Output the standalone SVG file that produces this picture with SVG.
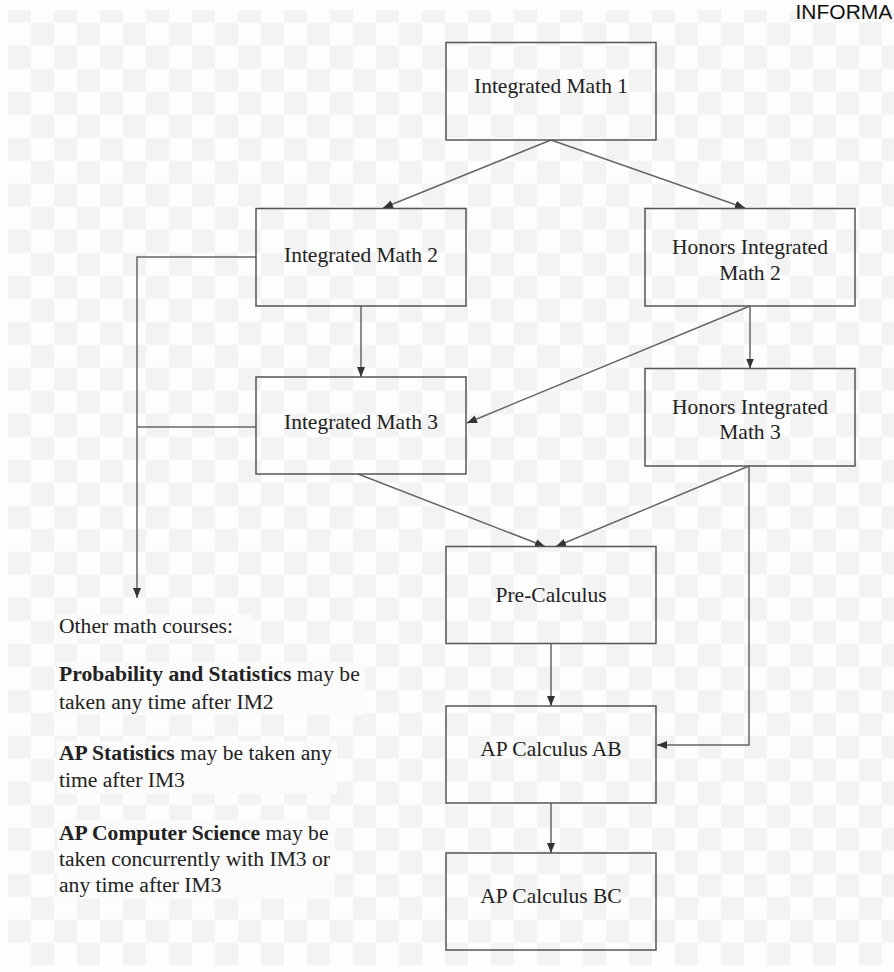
<svg xmlns="http://www.w3.org/2000/svg" width="894" height="972" viewBox="0 0 894 972">
<defs>
<pattern id="checker" x="8" y="-0.3" width="46" height="46" patternUnits="userSpaceOnUse">
<rect width="46" height="46" fill="#fdfdfd"/>
<rect width="23" height="23" fill="#f3f3f3"/>
<rect x="23" y="23" width="23" height="23" fill="#f3f3f3"/>
</pattern>
<marker id="arrow" markerUnits="userSpaceOnUse" markerWidth="12" markerHeight="10" refX="10" refY="4" orient="auto">
<path d="M0,0 L10,4 L0,8 Z" fill="#333"/>
</marker>
<style>
.box{fill:none;stroke:#555;stroke-width:1.5}
.lbl{font-family:"Liberation Serif","Times New Roman","DejaVu Serif",serif;font-size:21.5px;fill:#222;text-anchor:middle}
.note{font-family:"Liberation Serif","Times New Roman","DejaVu Serif",serif;font-size:21.6px;fill:#222}
.conn{fill:none;stroke:#666;stroke-width:1.5}
.bg{fill:#fbfbfb}
</style>
</defs>
<rect width="894" height="972" fill="#fefefe"/>
<rect x="8" y="10" width="886" height="955" fill="url(#checker)"/>
<text x="795.5" y="19" font-family="Liberation Sans, Arial, sans-serif" font-size="21" fill="#111">INFORMA</text>

<g id="connectors">
<line class="conn" x1="551" y1="140" x2="383" y2="208" marker-end="url(#arrow)"/>
<line class="conn" x1="551" y1="140" x2="745" y2="208" marker-end="url(#arrow)"/>
<line class="conn" x1="361" y1="306" x2="361" y2="377" marker-end="url(#arrow)"/>
<line class="conn" x1="750" y1="306" x2="467" y2="423" marker-end="url(#arrow)"/>
<line class="conn" x1="750" y1="306" x2="750" y2="368.5" marker-end="url(#arrow)"/>
<line class="conn" x1="358" y1="474" x2="545" y2="546.5" marker-end="url(#arrow)"/>
<line class="conn" x1="749" y1="466" x2="556" y2="546.5" marker-end="url(#arrow)"/>
<polyline class="conn" points="749,466 749,745 657,745" marker-end="url(#arrow)"/>
<line class="conn" x1="551" y1="643.5" x2="551" y2="706" marker-end="url(#arrow)"/>
<line class="conn" x1="551" y1="803" x2="551" y2="853" marker-end="url(#arrow)"/>
<polyline class="conn" points="256,257 137,257 137,598" marker-end="url(#arrow)"/>
<line class="conn" x1="256" y1="427" x2="137" y2="427"/>
</g>

<g id="im1">
<rect class="box" x="446" y="42.5" width="210" height="97.5"/>
<text class="lbl" x="551" y="92.7">Integrated Math 1</text>
</g>
<g id="im2">
<rect class="box" x="256" y="208.5" width="210" height="97.5"/>
<text class="lbl" x="361" y="262">Integrated Math 2</text>
</g>
<g id="him2">
<rect class="box" x="645" y="208.5" width="210" height="97.5"/>
<text class="lbl" x="750" y="254">Honors Integrated</text>
<text class="lbl" x="750" y="280">Math 2</text>
</g>
<g id="im3">
<rect class="box" x="256" y="377" width="210" height="97"/>
<text class="lbl" x="361" y="429.3">Integrated Math 3</text>
</g>
<g id="him3">
<rect class="box" x="645" y="368.5" width="210" height="97.5"/>
<text class="lbl" x="750" y="414">Honors Integrated</text>
<text class="lbl" x="750" y="439">Math 3</text>
</g>
<g id="precalc">
<rect class="box" x="446" y="546.5" width="210" height="97"/>
<text class="lbl" x="551" y="602.3">Pre-Calculus</text>
</g>
<g id="apcalcab">
<rect class="box" x="446" y="706" width="210" height="97"/>
<text class="lbl" x="551" y="756">AP Calculus AB</text>
</g>
<g id="apcalcbc">
<rect class="box" x="446" y="853" width="210" height="97"/>
<text class="lbl" x="551" y="902.7">AP Calculus BC</text>
</g>

<g id="other-courses">
<rect class="bg" x="57" y="614" width="194" height="25"/>
<rect class="bg" x="57" y="662" width="308" height="53"/>
<rect class="bg" x="57" y="741" width="280" height="53"/>
<rect class="bg" x="57" y="820" width="278" height="79"/>
<text class="note" x="59" y="633">Other math courses:</text>
<text class="note" x="59" y="681"><tspan font-weight="bold">Probability and Statistics</tspan> may be</text>
<text class="note" x="59" y="708.5">taken any time after IM2</text>
<text class="note" x="59" y="760"><tspan font-weight="bold">AP Statistics</tspan> may be taken any</text>
<text class="note" x="59" y="787">time after IM3</text>
<text class="note" x="59" y="839.5"><tspan font-weight="bold">AP Computer Science</tspan> may be</text>
<text class="note" x="59" y="866">taken concurrently with IM3 or</text>
<text class="note" x="59" y="892">any time after IM3</text>
</g>
</svg>
